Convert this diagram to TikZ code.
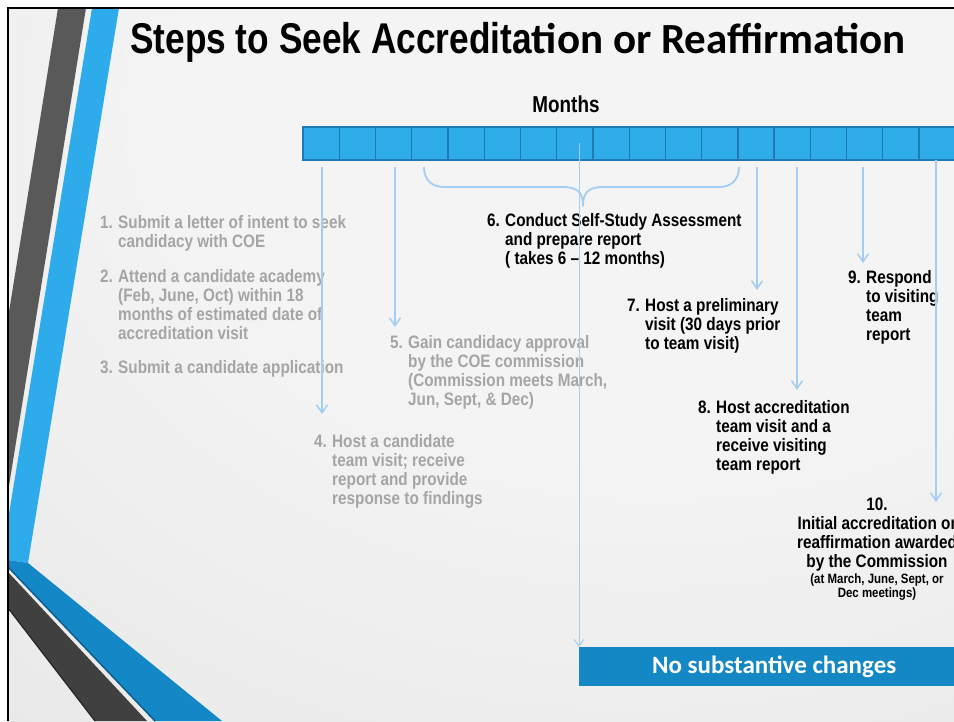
\documentclass[tikz,border=0pt]{standalone}
\usepackage{fontspec}
\usetikzlibrary{arrows.meta}

% Narrow bold sans for headings and step texts, Carlito for the rest
\newfontfamily\titlesans{Liberation Sans}[FakeStretch=0.82]
\newfontfamily\narrowsans{Liberation Sans}[FakeStretch=0.85]
\newfontfamily\calsans{Carlito}

\newcommand\bodyfont{\narrowsans\bfseries\fontsize{18}{19}\selectfont}
\newcommand\smallbodyfont{\narrowsans\bfseries\fontsize{13.5}{14}\selectfont}
\newcommand\steplines[1]{\begin{tabular}[t]{@{}l@{}}#1\end{tabular}}
\newcommand\steplinesc[1]{\begin{tabular}[t]{@{}c@{}}#1\end{tabular}}

\definecolor{bgin}{HTML}{F4F4F4}
\definecolor{bgout}{HTML}{D3D3D3}
\definecolor{stripegray}{HTML}{595959}
\definecolor{stripedark}{HTML}{404040}
\definecolor{stripeblue}{HTML}{2EABEA}
\definecolor{stripedeep}{HTML}{1488C6}
\definecolor{stripeshadow}{HTML}{0B5E8E}
\definecolor{cellfill}{HTML}{2FACEA}
\definecolor{celledge}{HTML}{1F7AB3}
\definecolor{guide}{HTML}{A3CDF2}
\definecolor{fadedtext}{HTML}{A5A5A5}
\definecolor{banner}{HTML}{1487C5}

\pgfdeclareradialshading{slidebg}{\pgfpoint{13bp}{26bp}}{%
  color(0bp)=(bgin); color(25bp)=(bgin); color(100bp)=(bgout)}

\tikzset{
  cell/.style={draw=celledge, fill=cellfill, line width=1.3pt,
    minimum width=36.24pt, minimum height=33pt, inner sep=0pt, outer sep=0pt},
  guideline/.style={draw=guide, line width=1.8pt, line join=round},
  guidearrow/.style={guideline,
    -{Straight Barb[length=8pt,width=11pt,line width=1.5pt]}},
  thinguide/.style={draw=guide, line width=1pt,
    -{Straight Barb[length=7pt,width=10pt,line width=1pt]}},
  faded/.style={text=fadedtext, font=\bodyfont, anchor=base west, inner sep=0pt},
  plain/.style={text=black, font=\bodyfont, anchor=base west, inner sep=0pt},
}

\begin{document}
\begin{tikzpicture}[x=1pt, y=-1pt]
\clip (0,0) rectangle (954,721);
\fill[white] (0,0) rectangle (954,721);

% slide background
\shade[shading=slidebg] (8,8) rectangle (954,721);

% slanted decorative stripes on the left
\fill[stripegray] (58,8) -- (86,8) -- (8,492) -- (8,318) -- cycle;
\fill[stripeblue] (92,8) -- (119,8) -- (28,563) -- (8,560) -- (8,520) -- cycle;
\fill[stripedeep] (8,560) -- (28,563) -- (222,721) -- (155,721) -- (8,567) -- cycle;
\draw[stripeshadow, line width=1.5pt] (8,567) -- (155,721);
\fill[stripedark] (8,572) -- (147,721) -- (95,721) -- (8,608) -- cycle;
\draw[black!85, line width=1.2pt] (8,608) -- (95,721);

% slide frame
\draw[black, line width=2.5pt] (8,721) -- (8,8) -- (960,8);

% title
\node[anchor=base west, inner sep=0pt] (title) at (130,53)
  {{\titlesans\bfseries\fontsize{43}{50}\selectfont Steps to Seek Accredita}%
   {\calsans\bfseries\fontsize{43}{50}\selectfont tion or Reaffirmation}};

% month scale
\node[anchor=base, inner sep=0pt, font=\titlesans\bfseries\fontsize{23}{26}\selectfont]
  (months) at (566,112) {Months};
\foreach \i in {0,...,17}
  \node[cell] (m\i) at (303+36.24*\i+18.12, 143.5) {};

% steps 1-5 (faded)
\node[faded] (n1) at (100,228) {1.};
\node[faded] (s1) at (118,228) {\steplines{Submit a letter of intent to seek\\candidacy with COE}};
\node[faded] (n2) at (100,282) {2.};
\node[faded] (s2) at (118,282) {\steplines{Attend a candidate academy\\(Feb, June, Oct) within 18\\months of estimated date of\\accreditation visit}};
\node[faded] (n3) at (100,373) {3.};
\node[faded] (s3) at (118,373) {Submit a candidate application};
\node[faded] (n4) at (314,447) {4.};
\node[faded] (s4) at (332,447) {\steplines{Host a candidate\\team visit; receive\\report and provide\\response to findings}};
\node[faded] (n5) at (390,348) {5.};
\node[faded] (s5) at (408,348) {\steplines{Gain candidacy approval\\by the COE commission\\(Commission meets March,\\Jun, Sept, \& Dec)}};

% steps 6-10
\node[plain] (n6) at (487,226) {6.};
\node[plain] (s6) at (505,226) {\steplines{Conduct Self-Study Assessment\\and prepare report\\( takes 6 – 12 months)}};
\node[plain] (n7) at (627,311) {7.};
\node[plain] (s7) at (645,311) {\steplines{Host a preliminary\\visit (30 days prior\\to team visit)}};
\node[plain] (n8) at (698,413) {8.};
\node[plain] (s8) at (716,413) {\steplines{Host accreditation\\team visit and a\\receive visiting\\team report}};
\node[plain] (n9) at (848,283) {9.};
\node[plain] (s9) at (866,283) {\steplines{Respond\\to visiting\\team\\report}};
\node[plain, anchor=base] (s10) at (877,510)
  {\steplinesc{10.\\Initial accreditation or\\reaffirmation awarded\\by the Commission}};
\node[text=black, font=\smallbodyfont, anchor=base, inner sep=0pt] (s10note) at (877,583)
  {\steplinesc{(at March, June, Sept, or\\Dec meetings)}};

% closing banner
\node[fill=banner, anchor=north west, minimum width=390pt, minimum height=39pt,
  inner sep=0pt, text=white, font=\calsans\bfseries\fontsize{25}{28}\selectfont]
  (banner) at (579,647) {No substantive changes};

% guide arrows from the month scale
\coordinate (a1s) at (322,167);  \coordinate (a1e) at (322,414);
\coordinate (a2s) at (395,167);  \coordinate (a2e) at (395,327);
\coordinate (a7s) at (757,167);  \coordinate (a7e) at (757,290);
\coordinate (a8s) at (797,167);  \coordinate (a8e) at (797,390);
\coordinate (a9s) at (863,167);  \coordinate (a9e) at (863,263);
\coordinate (a10s) at (936,160); \coordinate (a10e) at (936,502);
\draw[guidearrow] (a1s) -- (a1e);
\draw[guidearrow] (a2s) -- (a2e);
\draw[guidearrow] (a7s) -- (a7e);
\draw[guidearrow] (a8s) -- (a8e);
\draw[guidearrow] (a9s) -- (a9e);
\draw[guidearrow] (a10s) -- (a10e);

% brace spanning the self-study months
\coordinate (braceL) at (424,167);
\coordinate (braceR) at (739,167);
\coordinate (braceTip) at (583,206);
\draw[guideline]
  (braceL) .. controls +(0,14) and +(-11,0) .. ([shift={(20,20)}]braceL)
  -- ([shift={(-20,-19)}]braceTip) .. controls +(17,0) and +(0,-11) .. (braceTip)
  .. controls +(0,-11) and +(-17,0) .. ([shift={(20,-19)}]braceTip)
  -- ([shift={(-20,20)}]braceR) .. controls +(11,0) and +(0,14) .. (braceR);

% line from mid-scale down to the banner
\coordinate (midcell) at (579,143);
\draw[thinguide] (midcell) -- (banner.north west);
\end{tikzpicture}
\end{document}
